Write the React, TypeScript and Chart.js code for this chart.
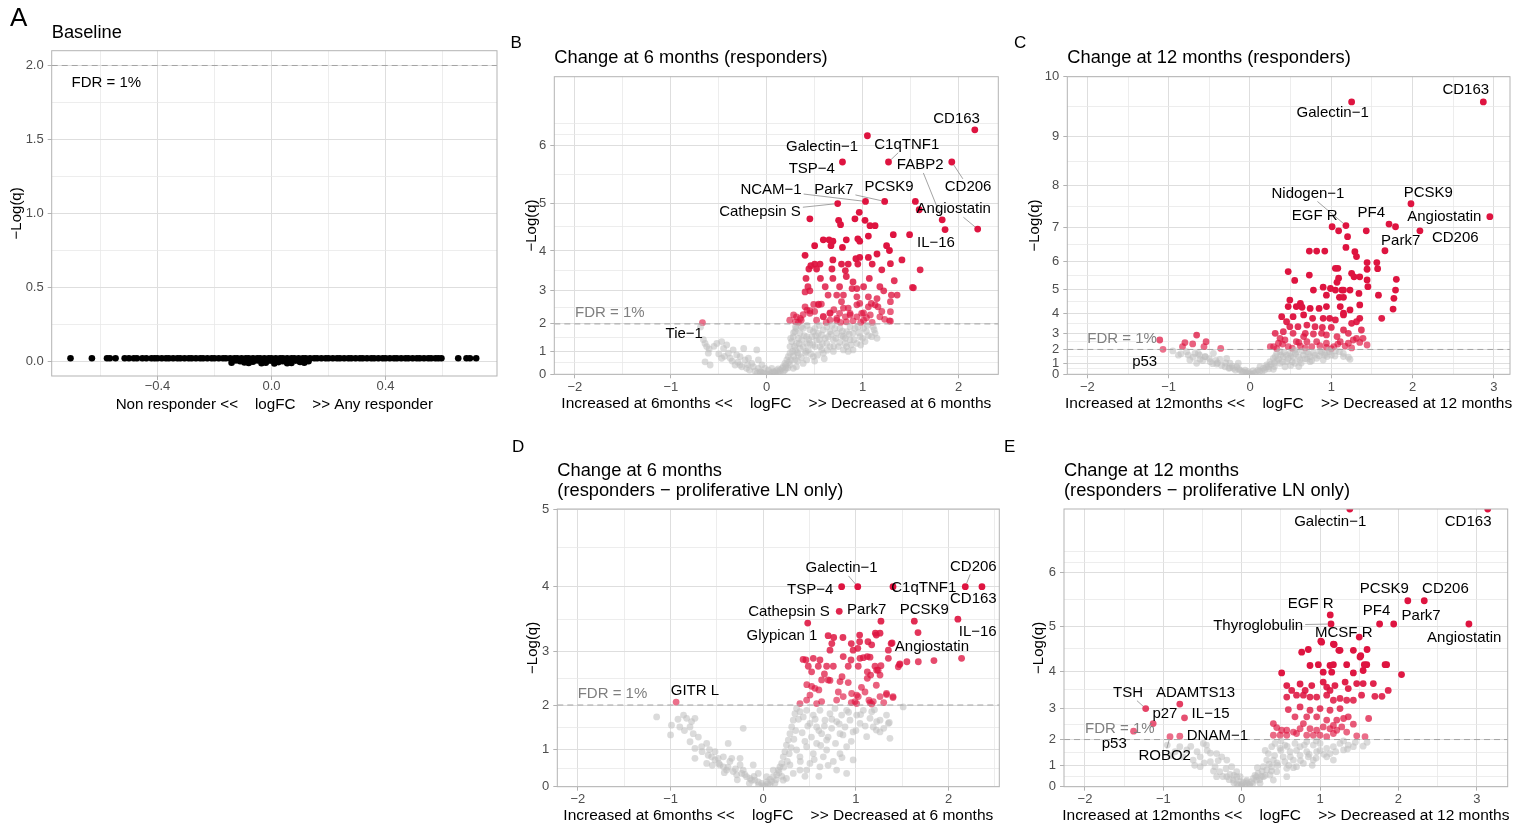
import React, { useEffect, useRef } from "react";
import { Chart, registerables } from "chart.js";

Chart.register(...registerables);

const FONT = "'Liberation Sans', Arial, Helvetica, sans-serif";
const PAGE_W = 1531;
const PAGE_H = 827;
const M = "\u2212";
const KT = 0.185;
const tr = (y: number) => Math.exp(KT * y) - 1;

type Pt = [number, number];
type Lab = [string, number, number, number, number, boolean]; // name, x, y, labelX, labelY, segment

// ---------------- Panel A: baseline ----------------
const baselinePts: Pt[] = [
  [-0.705, 0.02], [-0.63, 0.02], [-0.577, 0.02], [-0.567, 0.02], [-0.547, 0.02], [-0.515, 0.02],
  [-0.5, 0.02], [-0.483, 0.02], [-0.472, 0.02], [-0.453, 0.02], [-0.439, 0.02], [-0.421, 0.02],
  [-0.41, 0.02], [-0.4, 0.02], [-0.385, 0.02], [-0.37, 0.02], [-0.36, 0.02], [-0.345, 0.02],
  [-0.33, 0.02], [-0.32, 0.02], [-0.305, 0.02], [-0.29, 0.02], [-0.28, 0.02], [-0.265, 0.02],
  [-0.25, 0.02], [-0.24, 0.02], [-0.225, 0.02], [-0.21, 0.02], [-0.2, 0.02], [-0.185, 0.02],
  [-0.17, 0.02], [-0.16, 0.02], [-0.145, 0.02], [-0.13, 0.02], [-0.12, 0.02], [-0.105, 0.02],
  [-0.09, 0.02], [-0.08, 0.02], [-0.065, 0.02], [-0.05, 0.02], [-0.04, 0.02], [-0.025, 0.02],
  [-0.01, 0.02], [0, 0.02], [0.015, 0.02], [0.03, 0.02], [0.04, 0.02], [0.055, 0.02],
  [0.07, 0.02], [0.08, 0.02], [0.095, 0.02], [0.11, 0.02], [0.12, 0.02], [0.135, 0.02],
  [0.15, 0.02], [0.16, 0.02], [0.175, 0.02], [0.19, 0.02], [0.2, 0.02], [0.215, 0.02],
  [0.23, 0.02], [0.24, 0.02], [0.255, 0.02], [0.27, 0.02], [0.28, 0.02], [0.295, 0.02],
  [0.31, 0.02], [0.32, 0.02], [0.335, 0.02], [0.35, 0.02], [0.36, 0.02], [0.375, 0.02],
  [0.39, 0.02], [0.4, 0.02], [0.415, 0.02], [0.43, 0.02], [0.44, 0.02], [0.455, 0.02],
  [0.47, 0.02], [0.48, 0.02], [0.495, 0.02], [0.51, 0.02], [0.52, 0.02], [0.535, 0.02],
  [0.55, 0.02], [0.56, 0.02], [0.575, 0.02], [0.585, 0.02], [0.596, 0.02],
  [0.655, 0.02], [0.684, 0.02], [0.696, 0.02], [0.718, 0.02],
  [-0.14, -0.01], [-0.11, 0.0], [-0.08, -0.012], [-0.05, 0.005], [-0.02, -0.01],
  [0.01, -0.015], [0.04, 0.0], [0.07, -0.012], [0.1, -0.005], [0.13, 0.0],
  [-0.125, 0.005], [-0.095, -0.008], [-0.065, -0.004], [-0.035, -0.014], [-0.005, 0.004],
  [0.025, -0.006], [0.055, -0.014], [0.085, 0.004], [0.115, -0.01],
];

// ---------------- Panel B: 6 months, responders ----------------
const m6GreyPts: Pt[] = [
  [-0.643, 1.31], [-0.626, 1.19], [-0.609, 0.93], [-0.52, 1.31], [-0.47, 1.38], [-0.45, 1.12],
  [-0.417, 1.25], [-0.4, 0.93], [-0.35, 1.06], [-0.313, 0.86], [-0.278, 0.79], [-0.24, 1.12],
  [-0.226, 0.65], [-0.19, 0.72], [-0.156, 0.5], [-0.104, 1.06], [-0.087, 0.65], [-0.05, 0.43],
  [-0.087, 0.28], [-0.017, 0.28], [0.017, 0.2], [0.052, 0.28], [0.069, 0.12], [0.104, 0.17],
  [-0.07, 0.12], [-0.14, 0.35], [-0.38, 0.72], [-0.33, 0.43], [-0.59, 0.43], [-0.643, 0.57],
  [-0.47, 0.72], [-0.278, 0.43], [-0.21, 0.28], [-0.69, 1.9],
  [0.139, 0.2], [0.173, 0.35], [0.19, 0.5], [0.21, 0.65], [0.225, 0.79], [0.243, 0.93],
  [0.243, 1.19], [0.26, 1.38], [0.277, 1.56], [0.295, 1.74], [0.31, 1.85], [0.347, 1.68],
  [0.365, 1.44], [0.38, 1.19], [0.4, 0.93], [0.417, 0.65], [0.434, 1.06], [0.45, 1.31],
  [0.47, 1.56], [0.486, 1.74], [0.504, 1.85], [0.52, 1.44], [0.556, 1.19], [0.573, 1.62],
  [0.59, 1.8], [0.626, 1.31], [0.64, 1.56], [0.66, 1.74], [0.695, 1.44], [0.73, 1.68],
  [0.747, 1.19], [0.764, 1.85], [0.8, 1.56], [0.816, 1.31], [0.834, 1.74], [0.87, 1.44],
  [0.9, 1.68], [0.92, 1.85], [0.94, 1.31], [0.973, 1.56], [1.01, 1.85], [1.04, 1.74],
  [1.095, 1.56], [1.11, 1.9], [1.13, 1.68], [1.025, 1.38], [0.9, 1.06], [0.8, 1.06],
  [0.695, 1.0], [0.59, 0.93], [0.486, 0.79], [0.38, 0.5], [0.31, 0.35], [0.277, 0.28],
  [0.173, 0.12], [0.12, 0.07], [0.035, 0.07], [-0.035, 0.07], [0.087, 0.04], [0.243, 0.43],
  [0.295, 0.65], [0.33, 0.86], [0.347, 1.12], [0.19, 0.2], [0.417, 1.56], [0.538, 1.68],
  [0.66, 1.19], [0.834, 1.19], [0.71, 1.85], [0.45, 1.8], [0.573, 1.06], [0.38, 1.85],
  [0.626, 1.9], [0.87, 1.9], [0.504, 1.19], [0.417, 1.31], [0.31, 1.31],
  [0, 0.02], [0.06, 0.05], [-0.06, 0.1], [0.14, 0.1], [0.2, 0.3], [0.23, 0.55], [0.27, 1.0],
  [0.29, 1.2], [0.33, 1.5], [0.36, 1.9], [0.42, 1.95], [0.55, 1.95], [0.68, 1.95], [0.78, 1.6],
  [0.95, 1.9], [1.05, 1.95], [0.98, 1.25], [0.85, 1.0], [0.6, 0.7], [0.5, 0.6], [0.32, 0.6],
  [-0.66, 1.45], [-0.6, 1.1], [-0.55, 1.2], [-0.5, 0.9], [-0.44, 0.8], [-0.36, 0.6],
  [-0.3, 0.55], [-0.26, 0.35], [-0.2, 0.45], [-0.18, 0.2], [-0.12, 0.15], [-0.1, 0.05],
  [-0.04, 0.03], [0.02, 0.0], [0.08, 0.1], [0.12, 0.25], [0.16, 0.28], [0.2, 0.42],
  [0.22, 0.3], [0.25, 0.65], [0.28, 0.8], [0.3, 1.05], [0.32, 0.95], [0.34, 1.3],
  [0.36, 0.75], [0.39, 1.6], [0.41, 1.0], [0.44, 1.45], [0.46, 0.9], [0.48, 1.25],
  [0.51, 1.6], [0.53, 0.85], [0.55, 1.45], [0.58, 1.3], [0.61, 1.5], [0.63, 1.05],
  [0.67, 1.65], [0.7, 1.2], [0.72, 1.5], [0.76, 1.35], [0.79, 1.75], [0.82, 1.5],
  [0.86, 1.65], [0.88, 1.25], [0.91, 1.45], [0.96, 1.7], [1.0, 1.5], [1.06, 1.6],
  [1.12, 1.8], [1.15, 1.5], [0.25, 1.5], [0.28, 1.7], [0.3, 1.9],
];

const m6SigPts: Pt[] = [
  [0.45, 4.69], [0.965, 4.82], [0.75, 4.66], [0.77, 4.57], [0.92, 4.69], [1.025, 4.66],
  [1.077, 4.55], [1.13, 4.55], [1.32, 4.36], [1.49, 4.36], [1.06, 4.33], [0.59, 4.25],
  [0.65, 4.25], [0.69, 4.22], [0.67, 4.12], [0.83, 4.25], [0.95, 4.27], [0.97, 4.22],
  [0.79, 4.08], [0.5, 4.12], [0.4, 3.9], [1.25, 4.12], [1.28, 4.01], [1.15, 3.93],
  [0.97, 3.85], [1.06, 3.85], [0.93, 3.82], [0.5, 3.69], [0.46, 3.65], [0.556, 3.69],
  [0.69, 3.79], [0.78, 3.69], [0.85, 3.69], [0.95, 3.69], [1.1, 3.69], [1.2, 3.55],
  [1.41, 3.79], [1.6, 3.55], [1.29, 3.7], [0.44, 3.57], [0.52, 3.57], [0.68, 3.57],
  [0.82, 3.53], [0.83, 3.38], [0.56, 3.33], [0.41, 3.33], [0.69, 3.33], [1.07, 3.33],
  [1.33, 3.27], [0.9, 3.24], [0.43, 3.11], [0.45, 3.0], [0.4, 2.97], [0.61, 3.11],
  [0.76, 3.11], [0.89, 3.06], [0.94, 3.06], [1.01, 3.11], [1.18, 3.11], [1.22, 3.0],
  [1.53, 3.08], [1.3, 2.88], [1.36, 2.88], [0.64, 2.88], [0.73, 2.88], [0.8, 2.88],
  [0.94, 2.83], [1.06, 2.83], [1.15, 2.78], [0.49, 2.61], [0.54, 2.62], [0.57, 2.62],
  [0.78, 2.69], [0.97, 2.64], [1.09, 2.64], [1.16, 2.54], [1.29, 2.69], [1.29, 2.39],
  [0.42, 2.44], [0.31, 2.23], [0.45, 2.34], [0.66, 2.34], [0.76, 2.34], [0.87, 2.34],
  [0.99, 2.34], [1.08, 2.29], [0.3, 2.07], [0.36, 2.12], [0.52, 2.12], [0.66, 2.12],
  [0.83, 2.07], [1.01, 2.12], [1.29, 2.09], [1.18, 2.23], [0.94, 2.23], [0.59, 2.23],
  [0.73, 2.12], [0.82, 2.23], [0.24, 2.12], [1.52, 3.09], [1.59, 4.87],
  [0.28, 2.29], [0.35, 2.18], [0.4, 2.54], [0.45, 2.42], [0.54, 2.6], [0.59, 2.24],
  [0.66, 2.35], [0.73, 2.18], [0.8, 2.5], [0.87, 2.29], [0.94, 2.6], [1.01, 2.35],
  [1.06, 2.54], [1.13, 2.6], [1.28, 2.1],
  [0.33, 2.05], [0.38, 2.3], [0.5, 2.4], [0.62, 2.05], [0.7, 2.45], [0.77, 2.05],
  [0.85, 2.5], [0.9, 2.1], [0.98, 2.05], [1.04, 2.2], [1.1, 2.05], [1.2, 2.4], [1.23, 2.15],
];

const m6Labels: Lab[] = [
  ["CD163", 2.17, 6.24, 1.98, 6.41, false],
  ["Galectin" + M + "1", 1.05, 6.15, 0.577, 5.97, false],
  ["TSP" + M + "4", 0.79, 5.73, 0.47, 5.61, false],
  ["C1qTNF1", 1.27, 5.73, 1.46, 6.01, true],
  ["FABP2", 1.83, 4.67, 1.6, 5.68, true],
  ["CD206", 1.93, 5.73, 2.1, 5.3, true],
  ["NCAM" + M + "1", 1.03, 5.03, 0.045, 5.24, true],
  ["Park7", 1.23, 5.03, 0.7, 5.24, true],
  ["PCSK9", 1.55, 5.03, 1.275, 5.3, false],
  ["Cathepsin S", 0.74, 4.99, -0.07, 4.83, true],
  ["Angiostatin", 2.2, 4.48, 1.95, 4.88, true],
  ["IL" + M + "16", 1.86, 4.47, 1.765, 4.18, false],
  ["Tie" + M + "1", -0.67, 2.04, -0.86, 1.65, false],
];

// ---------------- Panel C: 12 months, responders ----------------
const m12GreyPts: Pt[] = [
  [-0.76, 1.61], [-0.74, 1.24], [-0.677, 1.73], [-0.615, 1.29], [-0.553, 1.49], [-0.49, 1.11],
  [-0.45, 1.73], [-0.41, 0.92], [-0.37, 1.29], [-0.307, 0.69], [-0.246, 0.98], [-0.205, 0.55],
  [-0.164, 0.69], [-0.123, 0.4], [-0.06, 0.4], [-0.02, 0.25], [0.04, 0.34], [0.1, 0.4],
  [0.164, 0.55], [0.205, 0.84], [0.246, 1.11], [0.287, 1.37], [0.328, 1.73], [0.369, 1.85],
  [0.41, 1.49], [0.45, 1.11], [0.49, 1.73], [0.533, 1.44], [0.574, 1.85], [0.615, 1.24],
  [0.656, 1.61], [0.697, 1.85], [0.74, 1.49], [0.78, 1.78], [0.82, 1.37], [0.86, 1.91],
  [0.92, 1.73], [0.98, 1.85], [1.045, 1.54], [1.148, 1.73], [1.23, 1.29], [0.225, 0.69],
  [0.123, 0.69], [0.369, 0.98], [0.553, 0.98], [0.74, 1.11], [0.43, 0.69], [0.287, 0.46],
  [-0.78, 1.85], [-0.656, 0.98], [-0.144, 0.98], [-0.287, 1.37], [-0.636, 1.73], [0.9, 1.24],
  [0, 0.05], [-0.05, 0.15], [0.05, 0.1], [0.15, 0.3], [-0.1, 0.25], [0.3, 0.7], [0.5, 0.8],
  [0.6, 0.7], [0.7, 1.3], [0.8, 1.6], [0.95, 1.5], [1.05, 1.9], [0.45, 1.6], [0.55, 1.95],
  [0.65, 1.9], [0.33, 1.2], [-0.25, 0.6], [-0.4, 1.0], [-0.55, 1.5], [-0.85, 1.7],
  [1.21, 1.45], [0.92, 1.6],
  [-0.95, 1.9], [-0.88, 1.6], [-0.7, 1.45], [-0.62, 1.6], [-0.58, 1.2], [-0.5, 1.35],
  [-0.46, 0.95], [-0.42, 1.2], [-0.35, 0.8], [-0.3, 1.0], [-0.26, 0.55], [-0.22, 0.75],
  [-0.18, 0.4], [-0.14, 0.5], [-0.08, 0.2], [-0.03, 0.1], [0.02, 0.02], [0.07, 0.2],
  [0.12, 0.3], [0.18, 0.4], [0.2, 0.65], [0.23, 0.5], [0.26, 0.9], [0.3, 1.0],
  [0.31, 1.5], [0.35, 1.3], [0.38, 1.6], [0.4, 1.1], [0.42, 1.8], [0.47, 1.35],
  [0.5, 1.55], [0.52, 1.1], [0.56, 1.7], [0.6, 1.45], [0.63, 1.0], [0.68, 1.35],
  [0.72, 1.7], [0.76, 1.2], [0.85, 1.55], [0.88, 1.8], [0.97, 1.95], [1.0, 1.6],
  [1.1, 1.85], [1.15, 1.5],
];

const m12SigPts: Pt[] = [
  [1.09, 6.9], [1.2, 6.74], [1.43, 6.9], [1.18, 6.43], [1.29, 6.3], [1.31, 6.15],
  [0.73, 6.32], [0.82, 6.32], [0.92, 6.32], [1.44, 5.96], [1.56, 5.96], [1.44, 5.74],
  [1.57, 5.76], [1.05, 5.77], [1.08, 5.77], [0.47, 5.66], [0.73, 5.54], [1.09, 5.43],
  [1.25, 5.6], [1.28, 5.48], [1.35, 5.48], [1.8, 5.39], [1.44, 5.37], [0.9, 5.1],
  [1.07, 5.28], [0.78, 4.99], [0.99, 5.05], [1.05, 4.99], [1.13, 4.99], [1.15, 4.99],
  [1.45, 5.12], [1.58, 4.79], [1.79, 4.99], [0.94, 4.79], [1.1, 4.7], [1.15, 4.7],
  [1.23, 4.99], [1.34, 4.86], [1.77, 4.66], [0.49, 4.59], [0.62, 4.45], [0.57, 4.31],
  [0.47, 4.31], [0.74, 4.23], [0.64, 4.28], [0.85, 4.23], [0.94, 4.31], [1.11, 4.31],
  [1.15, 4.01], [1.23, 4.16], [1.35, 4.38], [1.35, 3.77], [1.31, 3.6], [1.62, 3.77],
  [1.76, 4.2], [0.39, 3.85], [0.45, 3.6], [0.53, 3.85], [0.66, 3.93], [0.77, 3.77],
  [0.9, 3.77], [0.98, 3.77], [1.05, 3.69], [1.15, 3.93], [0.49, 3.35], [0.59, 3.35],
  [0.7, 3.43], [0.8, 3.35], [0.89, 3.31], [1.0, 3.31], [1.15, 3.17], [1.25, 3.52],
  [1.37, 3.17], [0.31, 2.99], [0.41, 3.08], [0.53, 2.99], [0.68, 2.99], [0.78, 2.95],
  [0.88, 2.99], [0.94, 2.9], [1.07, 2.8], [1.21, 2.99], [1.31, 2.7], [0.25, 2.18],
  [0.35, 2.4], [0.43, 2.6], [0.57, 2.5], [0.7, 2.5], [0.82, 2.5], [0.94, 2.4],
  [1.11, 2.5], [1.21, 2.4], [1.27, 2.6], [1.39, 2.7], [1.44, 2.29], [0.29, 2.18],
  [0.47, 2.18], [0.62, 2.22], [0.76, 2.18], [0.94, 2.14], [1.03, 2.18], [1.17, 2.22],
  [0.66, 2.8], [0.37, 2.7], [0.55, 5.35], [1.79, 7.01],
  [-1.11, 2.6], [-0.656, 2.89], [-0.8, 2.44], [-0.83, 2.18], [-0.705, 2.36], [-0.54, 2.5],
  [-0.566, 2.18], [-0.36, 2.07],
  [0.33, 2.05], [0.4, 2.35], [0.52, 2.08], [0.6, 2.45], [0.68, 2.1], [0.86, 2.25],
  [1.0, 2.05], [1.08, 2.35], [1.25, 2.1], [1.35, 2.45],
];

const m12Labels: Lab[] = [
  ["CD163", 2.87, 9.6, 2.654, 9.79, false],
  ["Galectin" + M + "1", 1.25, 9.6, 1.017, 9.41, false],
  ["Nidogen" + M + "1", 1.18, 7.04, 0.713, 7.83, true],
  ["PCSK9", 1.98, 7.59, 2.193, 7.85, false],
  ["EGF R", 1.01, 7.01, 0.796, 7.3, false],
  ["PF4", 1.71, 7.08, 1.492, 7.37, false],
  ["Angiostatin", 2.95, 7.27, 2.39, 7.26, false],
  ["Park7", 1.66, 6.33, 1.853, 6.62, false],
  ["CD206", 2.09, 6.9, 2.525, 6.71, false],
  ["p53", -1.07, 2.01, -1.295, 1.08, false],
];

// ---------------- Panel D: 6 months, proliferative LN ----------------
const p6GreyPts: Pt[] = [
  [-1.15, 1.75], [-0.99, 1.57], [-0.86, 1.79], [-0.827, 1.72], [-0.773, 1.65], [-0.737, 1.72],
  [-0.79, 1.53], [-0.79, 1.19], [-0.755, 1.38], [-0.737, 1.03], [-0.665, 1.07], [-0.61, 1.15],
  [-0.594, 0.86], [-0.557, 0.82], [-0.52, 0.74], [-0.486, 0.78], [-0.467, 0.61], [-0.43, 0.56],
  [-0.395, 0.47], [-0.378, 1.15], [-0.36, 0.7], [-0.324, 0.43], [-0.287, 0.34], [-0.25, 0.78],
  [-0.233, 0.38], [-0.216, 1.5], [-0.18, 0.29], [-0.144, 0.24], [-0.108, 0.61], [-0.09, 0.19],
  [-0.054, 0.14], [-0.017, 0.1], [0.037, 0.14], [0.072, 0.21], [0.108, 0.29], [0.145, 0.34],
  [0.162, 0.47], [0.18, 0.56], [0.199, 0.65], [0.216, 0.82], [0.234, 0.95], [0.25, 1.11],
  [0.27, 1.23], [0.288, 1.38], [0.307, 1.53], [0.324, 1.68], [0.342, 1.82], [0.36, 1.93],
  [0.396, 1.86], [0.432, 1.75], [0.468, 1.89], [0.504, 1.61], [0.54, 1.79], [0.576, 1.53],
  [0.612, 1.89], [0.63, 1.38], [0.666, 1.68], [0.684, 1.23], [0.72, 1.82], [0.738, 1.5],
  [0.774, 1.93], [0.792, 1.65], [0.828, 1.38], [0.846, 1.79], [0.882, 1.53], [0.9, 1.89],
  [0.936, 1.68], [0.97, 1.42], [1.008, 1.79], [1.044, 1.61], [1.08, 1.89], [1.116, 1.31],
  [1.152, 1.72], [1.187, 1.53], [1.224, 1.65], [1.26, 1.42], [1.35, 1.61], [1.367, 1.27],
  [1.33, 1.79], [1.17, 1.86], [0.36, 0.99], [0.396, 0.82], [0.468, 1.07], [0.504, 0.65],
  [0.54, 0.9], [0.576, 1.15], [0.648, 0.82], [0.684, 0.99], [0.756, 0.7], [0.828, 0.9],
  [0.9, 1.07], [0.97, 0.74], [0.396, 0.47], [0.324, 0.38], [0.25, 0.24], [0.216, 0.19],
  [0.288, 0.61], [0.468, 0.47], [0.612, 0.56], [0.792, 0.47], [0.9, 0.38], [-0.52, 0.95],
  [-0.9, 1.53], [-0.737, 0.78], [-0.61, 0.65], [-0.34, 0.78], [-0.43, 0.82], [-0.25, 0.61],
  [-0.054, 0.38], [0.037, 0.29], [0.108, 0.47], [-0.216, 0.47], [-0.125, 0.19], [0.072, 0.05],
  [0.126, 0.1], [0, 0.03], [1.51, 1.96], [1.26, 1.68], [1.36, 1.63], [1.22, 1.46],
  [-1.0, 1.35], [-0.92, 1.7], [-0.85, 1.45], [-0.7, 1.3], [-0.66, 0.95], [-0.58, 1.0],
  [-0.55, 0.6], [-0.48, 0.65], [-0.42, 0.4], [-0.38, 0.55], [-0.3, 0.5], [-0.28, 0.2],
  [-0.2, 0.35], [-0.15, 0.1], [-0.1, 0.3], [-0.05, 0.05], [0.02, 0.02], [0.05, 0.08],
  [0.09, 0.15], [0.14, 0.2], [0.17, 0.4], [0.2, 0.3], [0.22, 0.55], [0.26, 0.7],
  [0.28, 0.9], [0.3, 1.05], [0.33, 1.25], [0.35, 1.45], [0.38, 1.7], [0.42, 1.4],
  [0.45, 1.2], [0.48, 1.55], [0.52, 1.3], [0.56, 1.7], [0.6, 1.45], [0.62, 1.1],
  [0.66, 1.55], [0.7, 1.3], [0.74, 1.7], [0.78, 1.15], [0.82, 1.6], [0.86, 1.35],
  [0.92, 1.85], [0.95, 1.2], [1.0, 1.45], [1.05, 1.8], [1.1, 1.55], [1.2, 1.9],
  [1.3, 1.5], [0.4, 0.7], [0.55, 0.75], [0.7, 0.6], [0.85, 0.8], [0.45, 0.3], [0.6, 0.3],
];

const p6SigPts: Pt[] = [
  [0.7, 3.26], [0.76, 3.23], [0.86, 3.23], [1.04, 3.27], [1.21, 3.3], [0.74, 3.13],
  [0.72, 3.02], [0.95, 3.13], [0.97, 3.02], [1.02, 3.05], [1.04, 3.16], [1.13, 3.16],
  [1.26, 3.3], [1.35, 3.02], [1.38, 3.13], [0.43, 2.86], [0.46, 2.85], [0.54, 2.88],
  [0.612, 2.85], [0.863, 2.91], [0.947, 2.85], [1.044, 2.88], [1.08, 2.89], [1.123, 2.91],
  [1.152, 2.9], [1.35, 2.88], [1.475, 2.78], [1.55, 2.82], [1.673, 2.82], [1.842, 2.84],
  [2.14, 2.88], [0.486, 2.74], [0.594, 2.74], [0.684, 2.74], [0.756, 2.74], [0.917, 2.74],
  [1.025, 2.74], [1.206, 2.74], [1.27, 2.75], [1.457, 2.73], [0.522, 2.64], [1.123, 2.64],
  [1.224, 2.67], [0.63, 2.49], [0.7, 2.49], [0.72, 2.48], [0.522, 2.37], [0.828, 2.46],
  [0.917, 2.44], [1.123, 2.52], [1.159, 2.58], [1.26, 2.58], [0.504, 2.2], [0.558, 2.33],
  [0.81, 2.26], [0.863, 2.17], [0.954, 2.23], [1.008, 2.2], [1.025, 2.17], [1.098, 2.26],
  [1.26, 2.17], [1.33, 2.23], [1.4, 2.17], [0.468, 2.1], [0.63, 2.07], [0.792, 2.1],
  [0.99, 2.07], [1.152, 2.05], [1.187, 2.07], [0.396, 2.03], [0.576, 2.03], [1.008, 2.03],
  [1.17, 2.02], [1.22, 2.39], [1.33, 2.21], [1.4, 2.15], [1.47, 2.77], [1.17, 3.11],
  [1.24, 2.67], [1.39, 3.14], [1.22, 3.27],
  [0.47, 2.4], [0.6, 2.3], [0.66, 2.6], [0.85, 2.55], [0.95, 2.05], [1.06, 2.35],
  [1.14, 2.1], [1.3, 2.05],
];

const p6Labels: Lab[] = [
  ["Galectin" + M + "1", 1.02, 4.0, 0.846, 4.26, true],
  ["TSP" + M + "4", 0.846, 4.0, 0.507, 3.96, false],
  ["C1qTNF1", 1.4, 4.0, 1.732, 3.98, false],
  ["CD206", 2.18, 4.0, 2.267, 4.28, true],
  ["CD163", 2.36, 4.0, 2.267, 3.83, false],
  ["Cathepsin S", 0.82, 3.64, 0.278, 3.63, false],
  ["Park7", 1.27, 3.49, 1.116, 3.66, false],
  ["PCSK9", 1.63, 3.49, 1.738, 3.66, false],
  ["IL" + M + "16", 2.1, 3.52, 2.314, 3.32, false],
  ["Glypican 1", 0.48, 3.46, 0.202, 3.25, false],
  ["Angiostatin", 1.67, 3.31, 1.82, 3.07, false],
  ["GITR L", -0.94, 2.06, -0.737, 2.28, false],
];

// ---------------- Panel E: 12 months, proliferative LN ----------------
const p12GreyPts: Pt[] = [
  [-0.45, 1.8], [-0.32, 1.48], [-0.255, 1.35], [-0.19, 1.22], [-0.128, 0.94], [-0.064, 0.72],
  [-0.02, 0.49], [0.064, 0.33], [0.148, 0.41], [0.21, 0.64], [0.276, 0.94], [0.32, 1.22],
  [0.34, 1.48], [0.383, 1.74], [0.425, 1.86], [0.49, 1.68], [0.553, 1.8], [0.617, 1.55],
  [0.68, 1.86], [0.745, 1.74], [0.83, 1.92], [0.914, 1.8], [1.0, 1.86], [1.085, 1.68],
  [1.17, 1.74], [1.255, 1.86], [1.36, 1.8], [1.425, 1.74], [1.55, 1.76], [0.914, 1.22],
  [0.787, 1.08], [0.7, 0.94], [0.575, 0.87], [0.447, 0.72], [0.361, 0.57], [0.276, 0.49],
  [0.19, 0.33], [0.128, 0.25], [0.02, 0.2], [-0.107, 0.33], [-0.19, 0.49], [-0.28, 0.72],
  [-0.34, 0.94], [-0.4, 1.15], [-0.53, 1.35], [-0.57, 1.55], [-0.7, 1.62], [-0.79, 1.74],
  [-0.49, 1.86], [0.53, 1.35], [0.745, 1.41], [0.404, 1.22], [0.66, 1.22], [0.32, 0.8],
  [0.83, 1.55], [1.085, 1.35], [-0.02, 0.25], [0.064, 0.17], [-0.064, 0.49], [0.19, 0.49],
  [0.575, 0.49], [0.383, 0.94], [-0.32, 0.49], [-0.53, 0.94], [-0.62, 1.22], [1.127, 1.48],
  [1.17, 1.22], [0.957, 1.55], [1.3, 1.62], [0.404, 0.33], [0.234, 0.17],
  [0, 0.02], [-0.04, 0.08], [0.04, 0.05], [0.1, 0.12], [-0.1, 0.2], [0.25, 0.5], [0.45, 1.1],
  [0.6, 1.0], [0.85, 1.35], [1.0, 1.6], [0.2, 0.9], [-0.15, 0.6], [-0.4, 1.5], [-0.85, 1.55],
  [-0.95, 1.8], [1.3, 1.95], [1.6, 1.9], [0.3, 1.6], [0.5, 1.95], [0.95, 1.95],
  [-0.9, 1.4], [-0.75, 1.35], [-0.65, 1.75], [-0.6, 1.0], [-0.48, 1.1], [-0.44, 1.6],
  [-0.36, 0.75], [-0.3, 1.2], [-0.24, 0.5], [-0.2, 0.85], [-0.16, 0.35], [-0.1, 0.55],
  [-0.06, 0.15], [0.0, 0.1], [0.06, 0.25], [0.1, 0.05], [0.14, 0.15], [0.17, 0.55],
  [0.23, 0.35], [0.26, 0.75], [0.3, 0.55], [0.35, 1.05], [0.38, 0.75], [0.42, 1.4],
  [0.46, 1.0], [0.5, 1.6], [0.55, 1.15], [0.58, 1.75], [0.62, 1.35], [0.66, 0.9],
  [0.7, 1.6], [0.75, 1.2], [0.8, 1.8], [0.86, 1.45], [0.9, 1.0], [0.95, 1.3],
  [1.05, 1.45], [1.2, 1.55], [1.35, 1.65], [1.45, 1.9],
];

const p12SigPts: Pt[] = [
  [1.02, 4.67], [1.18, 4.62], [1.255, 4.49], [0.766, 4.45], [0.85, 4.51], [1.425, 4.49],
  [1.51, 4.34], [1.596, 4.16], [1.85, 4.16], [0.872, 4.14], [0.978, 4.16], [1.127, 4.14],
  [1.17, 4.16], [1.34, 4.16], [1.04, 3.98], [1.149, 3.98], [1.425, 3.96], [1.55, 4.02],
  [0.51, 3.96], [2.04, 3.92], [0.745, 3.68], [0.575, 3.64], [0.638, 3.51], [0.81, 3.51],
  [0.894, 3.64], [1.04, 3.73], [1.085, 3.6], [1.127, 3.51], [1.19, 3.64], [1.32, 3.73],
  [1.36, 3.56], [1.468, 3.69], [1.55, 3.69], [1.68, 3.69], [1.7, 3.35], [1.53, 3.38],
  [1.425, 3.24], [1.34, 3.24], [1.255, 3.29], [1.17, 3.24], [1.085, 3.38], [0.957, 3.33],
  [0.872, 3.33], [0.787, 3.38], [0.7, 3.38], [0.575, 3.33], [1.87, 3.51], [1.79, 3.35],
  [0.745, 3.05], [0.872, 2.95], [1.0, 3.0], [1.127, 2.95], [1.255, 3.0], [1.36, 2.75],
  [1.62, 2.7], [0.595, 2.97], [0.68, 2.75], [0.83, 2.75], [0.957, 2.75], [1.085, 2.65],
  [1.213, 2.65], [1.3, 2.7], [1.17, 2.48], [0.404, 2.54], [0.447, 2.41], [0.51, 2.32],
  [0.575, 2.32], [0.66, 2.26], [0.745, 2.37], [0.787, 2.54], [0.872, 2.37], [0.957, 2.32],
  [1.04, 2.43], [1.127, 2.37], [1.213, 2.32], [1.277, 2.43], [1.34, 2.26], [1.425, 2.52],
  [0.914, 2.15], [1.0, 2.15], [1.17, 2.21], [0.83, 2.15], [0.7, 2.21], [0.404, 2.15],
  [0.49, 2.15], [0.575, 2.15], [1.085, 2.1], [1.468, 2.13], [1.574, 2.1],
  [1.83, 4.16], [1.6, 4.51], [1.52, 4.37], [1.565, 4.16], [1.24, 4.49], [1.17, 4.63],
  [1.01, 4.69],
];

const p12Labels: Lab[] = [
  ["Galectin" + M + "1", 1.38, 6.98, 1.13, 6.79, false],
  ["CD163", 3.14, 6.98, 2.89, 6.79, false],
  ["PCSK9", 2.12, 5.5, 1.82, 5.72, false],
  ["CD206", 2.33, 5.5, 2.6, 5.72, false],
  ["EGF R", 1.13, 5.23, 0.88, 5.45, false],
  ["PF4", 1.76, 5.05, 1.72, 5.3, false],
  ["Park7", 1.94, 5.05, 2.29, 5.22, false],
  ["Thyroglobulin", 1.14, 5.05, 0.21, 5.02, true],
  ["MCSF R", 1.5, 4.78, 1.302, 4.86, false],
  ["Angiostatin", 2.9, 5.05, 2.84, 4.77, false],
  ["TSH", -1.225, 3.0, -1.45, 3.45, true],
  ["ADAMTS13", -0.79, 3.13, -0.589, 3.45, false],
  ["p27", -1.13, 2.54, -0.98, 2.84, false],
  ["IL" + M + "15", -0.73, 2.72, -0.397, 2.84, false],
  ["DNAM" + M + "1", -0.79, 2.12, -0.31, 2.12, false],
  ["p53", -1.38, 2.29, -1.627, 1.85, false],
  ["ROBO2", -0.915, 2.1, -0.983, 1.37, true],
];

// ---------------- axis breaks ----------------
const baseXMajor = [-0.4, 0, 0.4];
const baseXMinor = [-0.6, -0.2, 0.2, 0.6];
const baseYMajor = [0, 0.5, 1, 1.5, 2];
const baseYMinor = [0.25, 0.75, 1.25, 1.75];
const fcMajor6 = [-2, -1, 0, 1, 2];
const fcMinor6 = [-1.5, -0.5, 0.5, 1.5];
const fcMinor6p = [-1.5, -0.5, 0.5, 1.5, 2.5];
const fcMajor12 = [-2, -1, 0, 1, 2, 3];
const fcMinor12 = [-1.5, -0.5, 0.5, 1.5, 2.5];
const qMajor6 = [0, 1, 2, 3, 4, 5, 6];
const qMajor10 = [0, 1, 2, 3, 4, 5, 6, 7, 8, 9, 10];
const qMajor5 = [0, 1, 2, 3, 4, 5];
const qExtraTop = [6.17, 6.34];

interface PanelDef {
  id: string;
  letter: string; letterX: number; letterY: number; letterSize: number;
  title: string[]; titleY: number[];
  area: [number, number, number, number];
  xRange: [number, number]; xMajor: number[]; xMinor: number[]; xDigits: number; xTickPad: number;
  yRange: [number, number]; yMajor: number[]; yMinor: number[]; yDigits: number; warp: boolean; yExtra: number[];
  dark: Pt[]; grey: Pt[]; sig: Pt[]; labels: Lab[];
  xTitle: string; xTitleY: number; xTitleSize: number; yTitleX: number;
  fdrX: number; fdrY: number; fdrColor: string;
}

const SEP = "    logFC    ";
const panels: PanelDef[] = [
  {
    id: "A", letter: "A", letterX: 10, letterY: 18.8, letterSize: 26,
    title: ["Baseline"], titleY: [33.3],
    area: [51.7, 50.7, 497, 376],
    xRange: [-0.771, 0.791], xMajor: baseXMajor, xMinor: baseXMinor, xDigits: 1, xTickPad: -1,
    yRange: [-0.1, 2.1], yMajor: baseYMajor, yMinor: baseYMinor, yDigits: 1, warp: false, yExtra: [],
    dark: baselinePts, grey: [], sig: [], labels: [],
    xTitle: "Non responder <<" + SEP + ">> Any responder", xTitleY: 404.5, xTitleSize: 15.2, yTitleX: 16.7,
    fdrX: 71.5, fdrY: 83, fdrColor: "#000000",
  },
  {
    id: "B", letter: "B", letterX: 510.5, letterY: 43, letterSize: 17,
    title: ["Change at 6 months (responders)"], titleY: [58.3],
    area: [554.3, 76.7, 998.3, 374.3],
    xRange: [-2.215, 2.415], xMajor: fcMajor6, xMinor: fcMinor6, xDigits: 0, xTickPad: 1,
    yRange: [0, 6.99], yMajor: qMajor6, yMinor: [], yDigits: 0, warp: true, yExtra: qExtraTop,
    dark: [], grey: m6GreyPts, sig: m6SigPts, labels: m6Labels,
    xTitle: "Increased at 6months <<" + SEP + ">> Decreased at 6 months", xTitleY: 403.5, xTitleSize: 15.5, yTitleX: 532,
    fdrX: 575, fdrY: 312.5, fdrColor: "#7F7F7F",
  },
  {
    id: "C", letter: "C", letterX: 1014, letterY: 43.5, letterSize: 17,
    title: ["Change at 12 months (responders)"], titleY: [58.3],
    area: [1067.3, 76.7, 1510, 374.3],
    xRange: [-2.247, 3.198], xMajor: fcMajor12, xMinor: fcMinor12, xDigits: 0, xTickPad: 1,
    yRange: [0, 10], yMajor: qMajor10, yMinor: [], yDigits: 0, warp: true, yExtra: [],
    dark: [], grey: m12GreyPts, sig: m12SigPts, labels: m12Labels,
    xTitle: "Increased at 12months <<" + SEP + ">> Decreased at 12 months", xTitleY: 403.5, xTitleSize: 15.5, yTitleX: 1035,
    fdrX: 1087.3, fdrY: 338.8, fdrColor: "#7F7F7F",
  },
  {
    id: "D", letter: "D", letterX: 512, letterY: 447.5, letterSize: 17,
    title: ["Change at 6 months", "(responders " + M + " proliferative LN only)"], titleY: [470.7, 491.2],
    area: [557.3, 509, 999.3, 786.7],
    xRange: [-2.222, 2.547], xMajor: fcMajor6, xMinor: fcMinor6p, xDigits: 0, xTickPad: 1,
    yRange: [0, 5], yMajor: qMajor5, yMinor: [], yDigits: 0, warp: true, yExtra: [],
    dark: [], grey: p6GreyPts, sig: p6SigPts, labels: p6Labels,
    xTitle: "Increased at 6months <<" + SEP + ">> Decreased at 6 months", xTitleY: 815.8, xTitleSize: 15.5, yTitleX: 532.5,
    fdrX: 577.7, fdrY: 693.7, fdrColor: "#7F7F7F",
  },
  {
    id: "E", letter: "E", letterX: 1004, letterY: 447.5, letterSize: 17,
    title: ["Change at 12 months", "(responders " + M + " proliferative LN only)"], titleY: [470.7, 491.2],
    area: [1064, 509, 1507.7, 786.7],
    xRange: [-2.268, 3.395], xMajor: fcMajor12, xMinor: fcMinor12, xDigits: 0, xTickPad: 1,
    yRange: [0, 6.98], yMajor: qMajor6, yMinor: [], yDigits: 0, warp: true, yExtra: qExtraTop,
    dark: [], grey: p12GreyPts, sig: p12SigPts, labels: p12Labels,
    xTitle: "Increased at 12months <<" + SEP + ">> Decreased at 12 months", xTitleY: 815.8, xTitleSize: 15.5, yTitleX: 1038.5,
    fdrX: 1085, fdrY: 728.8, fdrColor: "#7F7F7F",
  },
];

const redAlpha = (y: number) => {
  const a = Math.max(0.5, Math.min(1, 0.2 + 0.2 * y));
  return `rgba(222, 20, 64, ${a.toFixed(3)})`;
};

const PT_R = 3.4;

function buildChart(canvas: HTMLCanvasElement, p: PanelDef) {
  const fy = (y: number) => (p.warp ? tr(y) : y);
  const fmt = (v: number, d: number) => (v < 0 ? M : "") + Math.abs(v).toFixed(d);
  const [L, Tp, R, B] = p.area;
  const YW = 40;
  const XH = 30;

  const xTicks = [
    ...p.xMajor.map((v) => ({ value: v, maj: true, lab: fmt(v, p.xDigits) })),
    ...p.xMinor.map((v) => ({ value: v, maj: false, lab: "" })),
  ].sort((a, b) => a.value - b.value);

  const yMinorVals: number[] = p.warp
    ? p.yMajor.slice(1).map((v, i) => (tr(p.yMajor[i]) + tr(v)) / 2).concat(p.yExtra.map(tr))
    : p.yMinor;
  const yTicks = [
    ...p.yMajor.map((v) => ({ value: fy(v), maj: true, lab: fmt(v, p.yDigits) })),
    ...yMinorVals.map((v) => ({ value: v, maj: false, lab: "" })),
  ].sort((a, b) => a.value - b.value);

  const grid = {
    color: (c: any) => (c.tick && c.tick.maj ? "#DEDEDE" : "#E8E8E8"),
    lineWidth: (c: any) => (c.tick && c.tick.maj ? 1 : 0.8),
    tickLength: 4,
    tickWidth: 1,
    tickColor: (c: any) => (c.tick && c.tick.maj ? "#B3B3B3" : "rgba(0,0,0,0)"),
    drawTicks: true,
    drawOnChartArea: true,
  };
  const tickFont = { family: FONT, size: 13 };

  const toData = (pts: Pt[]) => pts.map(([x, y]) => ({ x, y: fy(y) }));
  const datasets: any[] = [];
  if (p.dark.length) {
    datasets.push({
      data: toData(p.dark), pointBackgroundColor: "#000000", pointRadius: 3.3, pointHoverRadius: 3.3,
      pointBorderWidth: 0, clip: 0,
    });
  }
  if (p.grey.length) {
    datasets.push({
      data: toData(p.grey), pointBackgroundColor: "rgba(190,190,190,0.55)", pointRadius: PT_R,
      pointHoverRadius: PT_R, pointBorderWidth: 0, clip: 0,
    });
  }
  if (p.sig.length) {
    datasets.push({
      data: toData(p.sig), pointBackgroundColor: p.sig.map(([, y]) => redAlpha(y)), pointRadius: PT_R,
      pointHoverRadius: PT_R, pointBorderWidth: 0, clip: 0,
    });
  }
  if (p.labels.length) {
    datasets.push({
      data: p.labels.map((l) => ({ x: l[1], y: fy(l[2]) })),
      pointBackgroundColor: p.labels.map((l) => redAlpha(l[2])), pointRadius: PT_R,
      pointHoverRadius: PT_R, pointBorderWidth: 0, clip: 0,
    });
  }

  const deco = {
    id: "deco" + p.id,
    afterDatasetsDraw(chart: any) {
      const ctx: CanvasRenderingContext2D = chart.ctx;
      const a = chart.chartArea;
      const xs = chart.scales.x;
      const ys = chart.scales.y;
      ctx.save();
      const yy = ys.getPixelForValue(fy(2));
      ctx.beginPath();
      ctx.setLineDash([6, 4]);
      ctx.strokeStyle = "#A3A3A3";
      ctx.lineWidth = 1;
      ctx.moveTo(a.left, yy);
      ctx.lineTo(a.right, yy);
      ctx.stroke();
      ctx.setLineDash([]);

      ctx.font = `15px ${FONT}`;
      ctx.strokeStyle = "#8C8C8C";
      ctx.lineWidth = 0.8;
      for (const [name, x, y, lx, ly, seg] of p.labels) {
        if (!seg) continue;
        const px = xs.getPixelForValue(x);
        const py = ys.getPixelForValue(fy(y));
        const cx = xs.getPixelForValue(lx);
        const cy = ys.getPixelForValue(fy(ly));
        const hw = ctx.measureText(name).width / 2 + 2;
        const hh = 8;
        const dx = px - cx;
        const dy = py - cy;
        const t = Math.min(dx !== 0 ? hw / Math.abs(dx) : Infinity, dy !== 0 ? hh / Math.abs(dy) : Infinity);
        const len = Math.hypot(dx, dy);
        const end = 1 - 3.5 / len;
        if (t < end) {
          ctx.beginPath();
          ctx.moveTo(cx + dx * t, cy + dy * t);
          ctx.lineTo(cx + dx * end, cy + dy * end);
          ctx.stroke();
        }
      }
      ctx.fillStyle = "#000000";
      ctx.textAlign = "center";
      ctx.textBaseline = "middle";
      for (const [name, , , lx, ly] of p.labels) {
        ctx.fillText(name, xs.getPixelForValue(lx), ys.getPixelForValue(fy(ly)));
      }
      ctx.textAlign = "left";
      ctx.fillStyle = p.fdrColor;
      ctx.fillText("FDR = 1%", p.fdrX, p.fdrY);
      ctx.strokeStyle = "#B3B3B3";
      ctx.lineWidth = 1;
      ctx.strokeRect(a.left, a.top, a.right - a.left, a.bottom - a.top);
      ctx.restore();
    },
    afterDraw(chart: any) {
      const ctx: CanvasRenderingContext2D = chart.ctx;
      const a = chart.chartArea;
      ctx.save();
      ctx.fillStyle = "#000000";
      ctx.textBaseline = "middle";
      ctx.textAlign = "left";
      ctx.font = `${p.letterSize}px ${FONT}`;
      ctx.fillText(p.letter, p.letterX, p.letterY);
      ctx.font = `18.3px ${FONT}`;
      p.title.forEach((t, i) => ctx.fillText(t, a.left, p.titleY[i]));
      ctx.textAlign = "center";
      ctx.font = `${p.xTitleSize}px ${FONT}`;
      ctx.fillText(p.xTitle, (a.left + a.right) / 2, p.xTitleY);
      ctx.font = `15px ${FONT}`;
      ctx.translate(p.yTitleX, (a.top + a.bottom) / 2);
      ctx.rotate(-Math.PI / 2);
      ctx.fillText(M + "Log(q)", 0, 0);
      ctx.restore();
    },
  };

  return new Chart(canvas, {
    type: "scatter",
    data: { datasets },
    options: {
      animation: false,
      responsive: false,
      devicePixelRatio: 1,
      events: [],
      layout: {
        padding: { left: L - YW, top: Tp, right: PAGE_W - R, bottom: PAGE_H - B - XH },
      },
      plugins: {
        legend: { display: false },
        tooltip: { enabled: false },
        title: { display: false },
      },
      scales: {
        x: {
          type: "linear",
          min: p.xRange[0],
          max: p.xRange[1],
          afterFit: (s: any) => { s.height = XH; },
          afterBuildTicks: (s: any) => { s.ticks = xTicks.map((t) => ({ ...t })); },
          ticks: {
            autoSkip: false, maxRotation: 0, minRotation: 0, padding: p.xTickPad,
            color: "#4D4D4D", font: tickFont,
            callback: (_v: any, i: number, ts: any[]) => ts[i].lab,
          },
          grid,
          border: { display: false },
        },
        y: {
          type: "linear",
          min: fy(p.yRange[0]),
          max: fy(p.yRange[1]),
          afterFit: (s: any) => { s.width = YW; },
          afterBuildTicks: (s: any) => { s.ticks = yTicks.map((t) => ({ ...t })); },
          ticks: {
            autoSkip: false, padding: 4, color: "#4D4D4D", font: tickFont,
            callback: (_v: any, i: number, ts: any[]) => ts[i].lab,
          },
          grid,
          border: { display: false },
        },
      },
    } as any,
    plugins: [deco],
  });
}

function PanelCanvas({ p }: { p: PanelDef }) {
  const ref = useRef<HTMLCanvasElement>(null);
  useEffect(() => {
    if (!ref.current) return;
    const chart = buildChart(ref.current, p);
    return () => chart.destroy();
  }, [p]);
  return (
    <canvas
      ref={ref}
      width={PAGE_W}
      height={PAGE_H}
      style={{ position: "absolute", left: 0, top: 0, width: PAGE_W, height: PAGE_H }}
    />
  );
}

export default function App() {
  return (
    <div
      style={{
        position: "absolute", left: 0, top: 0, width: PAGE_W, height: PAGE_H,
        background: "#ffffff", overflow: "hidden",
      }}
    >
      {panels.map((p) => (
        <PanelCanvas key={p.id} p={p} />
      ))}
    </div>
  );
}
